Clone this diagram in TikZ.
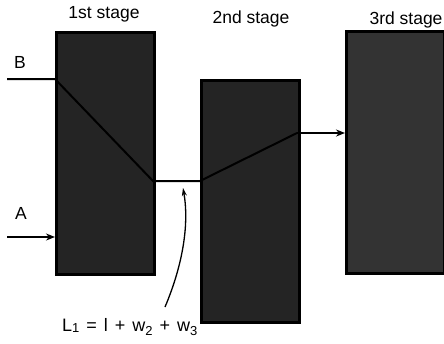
\documentclass[tikz,border=0pt]{standalone}
\usepackage{fontspec}
\setmainfont{Liberation Sans}
\usetikzlibrary{arrows.meta}
\newcommand{\wsp}{\kern2pt\ \kern0pt}
\begin{document}
\begin{tikzpicture}[x=1pt,y=-1pt,
  stagebox/.style={draw=black, line width=2.5pt, fill=black!86, minimum width=98pt, minimum height=242pt, inner sep=0pt, anchor=north west},
  flow/.style={line width=2pt, black},
  lbl/.style={font=\fontsize{17.5}{20}\selectfont, inner sep=0pt},
  tip/.style={-{Stealth[length=9pt,width=7pt]}}
]
\useasboundingbox (0,0) rectangle (444,343);
\node[stagebox] (s1) at (55,31) {};
\node[stagebox] (s2) at (200,79) {};
\node[stagebox, fill=black!80] (s3) at (345,30) {};

\node[lbl] (t1) at (104,14) {1st stage};
\node[lbl] (t2) at (251,19) {2nd stage};
\node[lbl] (t3) at (406,20) {3rd stage};
\node[lbl] (lB) at (20,62) {B};
\node[lbl] (lA) at (21,213) {A};
\node[lbl, anchor=west, font=\fontsize{18}{20}\selectfont] (lL) at (62,327) {L\raisebox{-1.5pt}{\fontsize{13}{13}\selectfont 1}\wsp=\wsp l\wsp+\wsp w\raisebox{-4pt}{\fontsize{13}{13}\selectfont 2}\wsp+\wsp w\raisebox{-4pt}{\fontsize{13}{13}\selectfont 3}};

\coordinate (bin) at (7,79);
\coordinate (ain) at (7,237);
\coordinate (m1) at (153,181);
\coordinate (m2) at (200,181);
\coordinate (out) at (297,133);
\coordinate (ctail) at (165,307);
\coordinate (chead) at (183,188);

\draw[flow] (bin) -- (s1.west |- bin) -- (m1) -- (m2) -- (out);
\draw[flow, tip] (out) -- (s3.west |- out);
\draw[flow, tip] (ain) -- (s1.west |- ain);
\draw[line width=1.3pt, -{Stealth[length=8pt,width=5pt]}] (ctail) .. controls (184,262) and (189,222) .. (chead);
\end{tikzpicture}
\end{document}
